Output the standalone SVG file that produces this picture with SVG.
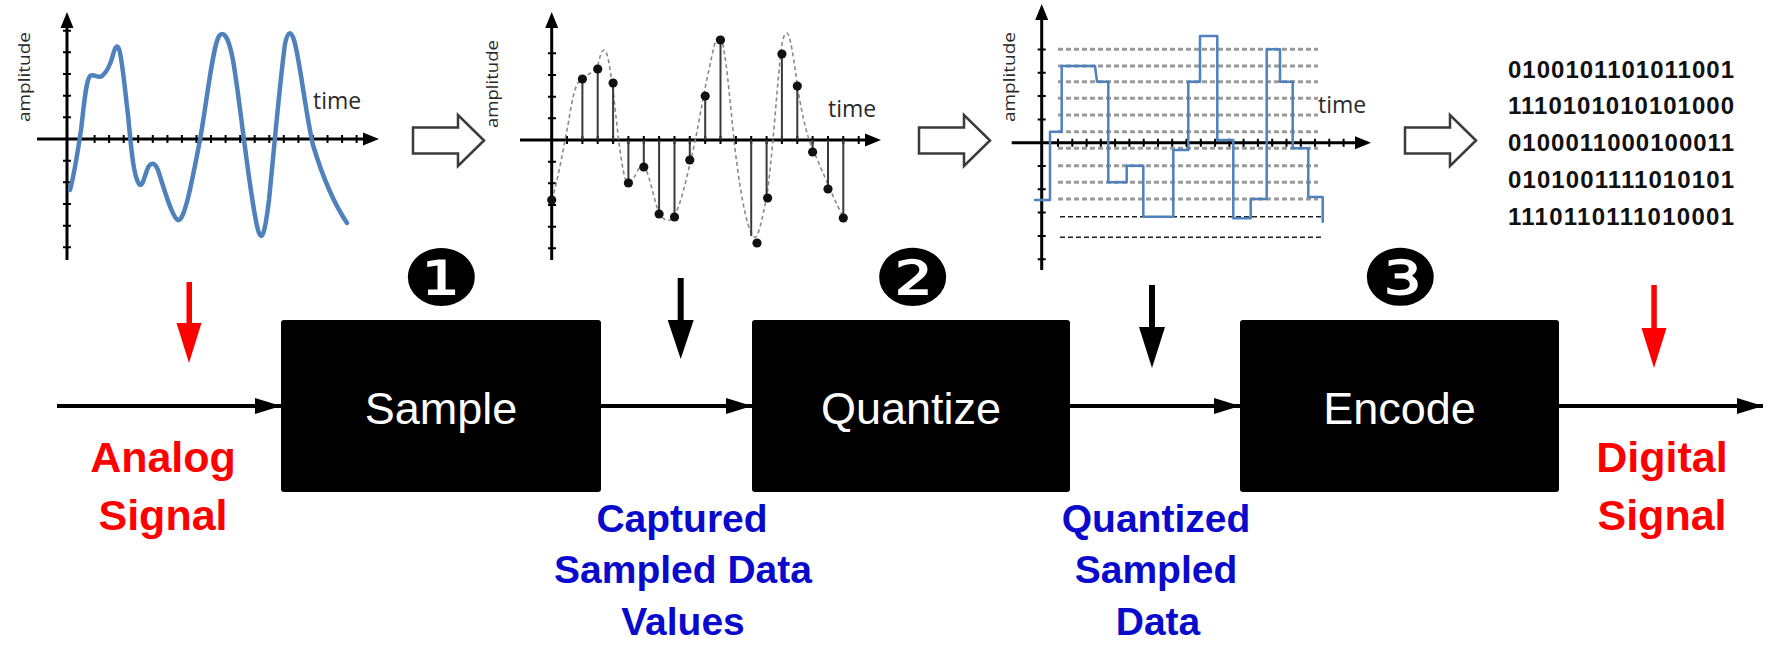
<svg xmlns="http://www.w3.org/2000/svg" width="1774" height="649" viewBox="0 0 1774 649">
  <style>
    .axis { stroke: #000; stroke-width: 3; fill: none; }
    .tick { stroke: #000; stroke-width: 2; fill: none; }
    .axhead { fill: #000; }
    .axlabel { font-family: "Open Sans", "Liberation Sans", sans-serif; fill: #2a2a2a; }
    .wave { stroke: #4F81BD; fill: none; stroke-linecap: round; stroke-linejoin: round; }
    .stem { stroke: #3a3a3a; stroke-width: 2; }
    .dot { fill: #111; }
    .level { stroke: #9a9a9a; stroke-width: 3; stroke-dasharray: 5 3; }
    .level-thin { stroke: #222; stroke-width: 1.5; stroke-dasharray: 5 3; }
    .hollow { fill: #fff; stroke: #3a3a3a; stroke-width: 2.5; stroke-linejoin: miter; }
    .bits { font-family: "Liberation Sans", Arial, sans-serif; font-weight: bold; font-size: 24px; fill: #111; }
    .box { fill: #000; }
    .boxtext { font-family: "Liberation Sans", Arial, sans-serif; font-size: 45px; fill: #fff; text-anchor: middle; }
    .step { font-family: "DejaVu Sans", "Noto Sans CJK JP", sans-serif; font-size: 86px; fill: #000; text-anchor: middle; }
    .red { font-family: "Liberation Sans", Arial, sans-serif; font-weight: bold; font-size: 43px; fill: #FF0000; text-anchor: middle; }
    .blue { font-family: "Liberation Sans", Arial, sans-serif; font-weight: bold; font-size: 39px; fill: #0A0ACC; text-anchor: middle; }
    .flow { stroke: #000; stroke-width: 4; fill: none; }
  </style>
  <defs>
    <path id="hollow-arrow" d="M0,-13 H45 V-25.5 L71,0 L45,25.5 V13 H0 Z"/>
    <marker id="flow-head" viewBox="0 0 26 16" refX="26" refY="8" markerWidth="26" markerHeight="16" markerUnits="userSpaceOnUse" orient="auto">
      <path d="M0,0 L26,8 L0,16 Z" fill="#000"/>
    </marker>
  </defs>

  <rect width="1774" height="649" fill="#fff"/>

  <!-- analog waveform plot -->
  <g id="graph-analog">
    <path class="axis" d="M67,26 V260 M37,139 H366"/>
    <path class="axhead" d="M67,12 L73.5,28 L60.5,28 Z M379,139 L363,132.5 L363,145.5 Z"/>
    <path class="tick" d="M80,135v8 M94.6,135v8 M109.1,135v8 M123.7,135v8 M138.2,135v8 M152.8,135v8 M167.4,135v8 M181.9,135v8 M196.5,135v8 M211,135v8 M225.6,135v8 M240.2,135v8 M254.7,135v8 M269.3,135v8 M283.8,135v8 M298.4,135v8 M313,135v8 M327.5,135v8 M342.1,135v8 M356.6,135v8"/>
    <path class="tick" d="M63,30.7h8 M63,52.3h8 M63,74h8 M63,95.7h8 M63,117.3h8 M63,160.7h8 M63,182.3h8 M63,204h8 M63,225.7h8 M63,247.3h8"/>
    <text class="axlabel" font-size="17" transform="translate(30,77) rotate(-90)" text-anchor="middle" textLength="90" lengthAdjust="spacingAndGlyphs">amplitude</text>
    <text class="axlabel" font-size="23" x="313" y="109">time</text>
    <path class="wave" stroke-width="4.5" d="M70,190 C74,176 78,150 81,130 C84,105 86,80 90,76 C94,73 98,79 102,76 C106,73 110,66 113,55 C115,47 117,44 119,49 C122,57 125,90 128,115 C131,145 133,175 139,184 C143,189 145,172 149,166 C152,162 155,163 158,170 C163,185 172,218 178,220 C185,222 193,175 200,140 C207,100 213,45 219,36 C223,31 228,34 233,60 C240,100 250,200 258,230 C262,244 265,232 269,200 C273,160 280,80 285,44 C288,30 291,31 294,40 C300,60 305,110 313,145 C322,175 335,205 347,223"/>
  </g>

  <!-- sampled values plot -->
  <g id="graph-sampled">
    <path class="axis" d="M551.7,26 V260 M520,140 H867"/>
    <path class="axhead" d="M551.7,12 L558.2,28 L545.2,28 Z M881,140 L865,133.5 L865,146.5 Z"/>
    <path class="tick" d="M567,136v8 M582.4,136v8 M597.7,136v8 M613.1,136v8 M628.4,136v8 M643.8,136v8 M659.1,136v8 M674.5,136v8 M689.8,136v8 M705.2,136v8 M720.5,136v8 M735.9,136v8 M751.2,136v8 M766.6,136v8 M781.9,136v8 M797.3,136v8 M812.6,136v8 M828,136v8 M843.3,136v8 M858.7,136v8"/>
    <path class="tick" d="M548,53.3h8 M548,75h8 M548,96.7h8 M548,118.3h8 M548,161.7h8 M548,183.3h8 M548,205h8 M548,226.7h8 M548,248.3h8"/>
    <text class="axlabel" font-size="17" transform="translate(498,84) rotate(-90)" text-anchor="middle" textLength="88" lengthAdjust="spacingAndGlyphs">amplitude</text>
    <text class="axlabel" font-size="23" x="828" y="117">time</text>
    <path d="M551.7,200 C558,180 563,150 568,125 C572,100 575,85 580,80 C585,76 592,73 597,68 C600,58 601,50 604,50 C608,50 610,70 613,90 C616,115 620,160 625,178 C628,186 632,182 637,172 C640,165 644,164 647,172 C652,185 656,210 661,216 C664,220 668,222 672,219 C680,210 686,180 692,155 C698,130 704,90 709,70 C713,50 716,36 719,36 C724,36 728,80 733,130 C738,180 746,230 754,237 C758,240 762,220 767,195 C772,160 776,100 780,60 C782,40 784,33 787,33 C790,33 794,60 798,90 C803,120 808,140 814,152 C822,170 836,205 845,220" fill="none" stroke="#8a8a8a" stroke-width="1.6" stroke-dasharray="4 3"/>
    <path class="stem" d="M582.4,140V79 M597.7,140V69 M613.1,140V83 M628.4,140V183 M643.8,140V167 M659.1,140V214 M674.5,140V217 M689.8,140V160 M705.2,140V96 M720.5,140V40 M751.2,140V236 M766.6,140V198 M781.9,140V54 M797.3,140V86 M812.6,140V152 M828,140V189 M843.3,140V218"/>
    <g class="dot">
      <circle cx="551.7" cy="200" r="4.6"/>
      <circle cx="582.4" cy="79" r="4.6"/>
      <circle cx="597.7" cy="69" r="4.6"/>
      <circle cx="613.1" cy="83" r="4.6"/>
      <circle cx="628.4" cy="183" r="4.6"/>
      <circle cx="643.8" cy="167" r="4.6"/>
      <circle cx="659.1" cy="214" r="4.6"/>
      <circle cx="674.5" cy="217" r="4.6"/>
      <circle cx="689.8" cy="160" r="4.6"/>
      <circle cx="705.2" cy="96" r="4.6"/>
      <circle cx="720.5" cy="40" r="4.6"/>
      <circle cx="757" cy="243" r="4.6"/>
      <circle cx="767.6" cy="198" r="4.6"/>
      <circle cx="781.9" cy="54" r="4.6"/>
      <circle cx="797.3" cy="86" r="4.6"/>
      <circle cx="812.6" cy="152" r="4.6"/>
      <circle cx="828" cy="189" r="4.6"/>
      <circle cx="843.3" cy="218" r="4.6"/>
    </g>
  </g>

  <!-- quantized staircase plot -->
  <g id="graph-quantized">
    <g>
      <path class="level" d="M1058,49.3H1318 M1058,66H1318 M1058,81.7H1318 M1058,98.3H1318 M1058,115H1318 M1058,131.7H1318 M1058,148.3H1318 M1058,165.7H1318 M1058,182.3H1318 M1058,199H1318"/>
      <path class="level-thin" d="M1060,216.7H1322 M1060,237.3H1322"/>
    </g>
    <path class="axis" d="M1041.7,18 V270 M1011.7,142.7 H1357"/>
    <path class="axhead" d="M1041.7,4 L1048.2,20 L1035.2,20 Z M1371,142.7 L1355,136.2 L1355,149.2 Z"/>
    <path class="tick" d="M1058,138.7v8 M1072.3,138.7v8 M1086.6,138.7v8 M1100.8,138.7v8 M1115.1,138.7v8 M1129.4,138.7v8 M1143.7,138.7v8 M1158,138.7v8 M1172.2,138.7v8 M1186.5,138.7v8 M1200.8,138.7v8 M1215.1,138.7v8 M1229.4,138.7v8 M1243.6,138.7v8 M1257.9,138.7v8 M1272.2,138.7v8 M1286.5,138.7v8 M1300.8,138.7v8 M1315,138.7v8 M1329.3,138.7v8 M1343.6,138.7v8"/>
    <path class="tick" d="M1037.7,49.4h8 M1037.7,72.7h8 M1037.7,96h8 M1037.7,119.4h8 M1037.7,166h8 M1037.7,189.3h8 M1037.7,212.6h8 M1037.7,235.9h8 M1037.7,259.2h8"/>
    <text class="axlabel" font-size="17" transform="translate(1015,77) rotate(-90)" text-anchor="middle" textLength="90" lengthAdjust="spacingAndGlyphs">amplitude</text>
    <text class="axlabel" font-size="23" x="1318" y="113">time</text>
    <path class="wave" stroke-width="2.5" stroke-linecap="butt" stroke-linejoin="miter" d="M1035,200 H1050 V131.7 H1061.7 V66 H1095 L1097,81.7 H1108.3 V182.3 H1126.7 V165.7 H1143.3 V216.7 H1173.3 V150 H1188.3 V81.7 H1200 V36 H1217.3 V140 H1233.3 V218.3 H1250.7 V199 H1266.7 V49.3 H1280 V81.7 H1292.7 V148.3 H1308.3 V197 H1322.7 V221.7"/>
  </g>

  <!-- stage-to-stage outline arrows -->
  <g id="hollow-arrows" class="hollow">
    <use href="#hollow-arrow" x="413" y="140.5"/>
    <use href="#hollow-arrow" x="919" y="140.5"/>
    <use href="#hollow-arrow" x="1405" y="140.5"/>
  </g>

  <!-- encoded bit stream -->
  <g id="bitstream" class="bits">
    <text x="1508" y="77.5" textLength="226" lengthAdjust="spacing">0100101101011001</text>
    <text x="1508" y="114.4" textLength="226" lengthAdjust="spacing">1110101010101000</text>
    <text x="1508" y="151.3" textLength="226" lengthAdjust="spacing">0100011000100011</text>
    <text x="1508" y="188.2" textLength="226" lengthAdjust="spacing">0101001111010101</text>
    <text x="1508" y="225.1" textLength="226" lengthAdjust="spacing">1110110111010001</text>
  </g>

  <!-- step markers (slightly flattened circled digits) -->
  <g id="step-1" transform="translate(441,282) scale(1.04,0.9)"><text class="step" x="0" y="26">❶</text></g>
  <g id="step-2" transform="translate(912.5,282) scale(1.04,0.9)"><text class="step" x="0" y="26">❷</text></g>
  <g id="step-3" transform="translate(1400,282) scale(1.04,0.9)"><text class="step" x="0" y="26">❸</text></g>

  <!-- processing blocks -->
  <g id="node-sample">
    <rect class="box" x="281" y="320" width="320" height="172" rx="3"/>
    <text class="boxtext" x="441" y="424">Sample</text>
  </g>
  <g id="node-quantize">
    <rect class="box" x="752" y="320" width="318" height="172" rx="3"/>
    <text class="boxtext" x="911" y="424">Quantize</text>
  </g>
  <g id="node-encode">
    <rect class="box" x="1240" y="320" width="319" height="172" rx="3"/>
    <text class="boxtext" x="1399.5" y="424">Encode</text>
  </g>

  <!-- signal flow and tap arrows -->
  <g id="connectors">
    <path class="flow" d="M57,406 H281" marker-end="url(#flow-head)"/>
    <path class="flow" d="M601,406 H752" marker-end="url(#flow-head)"/>
    <path class="flow" d="M1070,406 H1240" marker-end="url(#flow-head)"/>
    <path class="flow" d="M1559,406 H1763" marker-end="url(#flow-head)"/>
    <g fill="#FF0000">
      <rect x="186.5" y="282" width="5.5" height="43"/>
      <path d="M176.5,323 L201.5,323 L189,363 Z"/>
      <rect x="1651.3" y="285" width="5.5" height="45"/>
      <path d="M1641.5,328 L1666.5,328 L1654,368 Z"/>
    </g>
    <g fill="#000">
      <rect x="677.7" y="278" width="6" height="44"/>
      <path d="M667.7,320 L693.7,320 L680.7,359 Z"/>
      <rect x="1149" y="285" width="6" height="44"/>
      <path d="M1139,327 L1165,327 L1152,368 Z"/>
    </g>
  </g>

  <!-- signal labels -->
  <g id="label-analog" class="red">
    <text x="163" y="472">Analog</text>
    <text x="163" y="530">Signal</text>
  </g>
  <g id="label-digital" class="red">
    <text x="1662" y="472">Digital</text>
    <text x="1662" y="530">Signal</text>
  </g>
  <g id="label-sampled" class="blue">
    <text x="682" y="532">Captured</text>
    <text x="683" y="583">Sampled Data</text>
    <text x="683" y="635">Values</text>
  </g>
  <g id="label-quantized" class="blue">
    <text x="1156" y="532">Quantized</text>
    <text x="1156" y="583">Sampled</text>
    <text x="1158" y="635">Data</text>
  </g>
</svg>
